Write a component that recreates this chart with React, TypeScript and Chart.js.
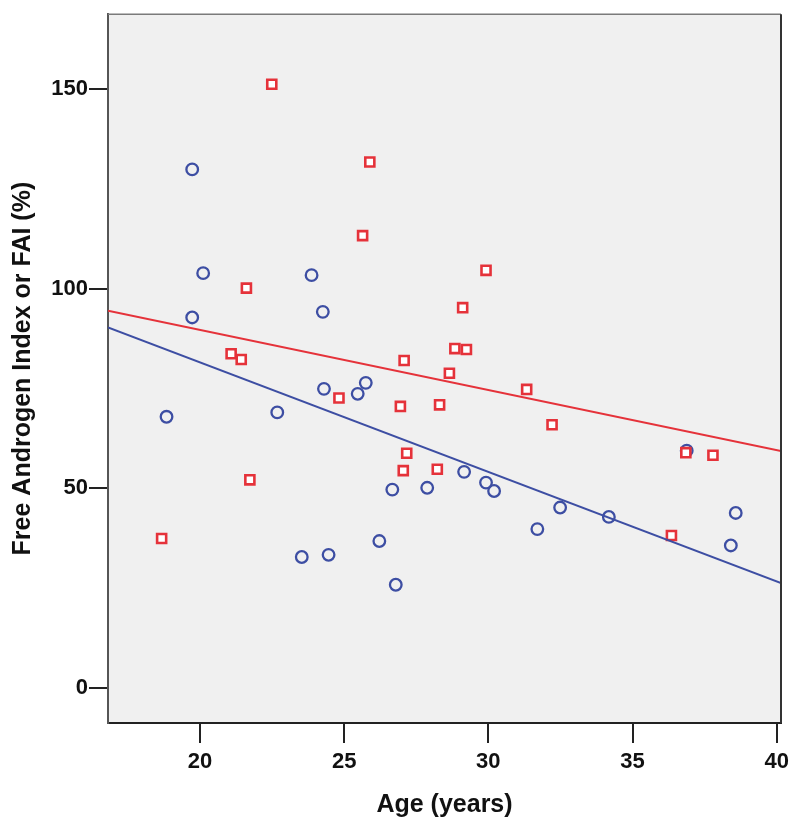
import React, { useEffect, useRef } from "react";
import { Chart, registerables } from "chart.js";

Chart.register(...registerables);

// Red series (squares): age, FAI
const redAge = [22.49, 25.89, 25.64, 21.61, 21.08, 21.43, 24.82, 29.92, 29.11, 28.84, 29.24, 27.08, 28.65, 31.33, 26.95, 28.31, 32.21, 21.73, 18.67, 27.17, 27.05, 28.23, 36.85, 37.79, 36.35];
const redFAI = [151.25, 131.75, 113.3, 100.15, 83.7, 82.25, 72.6, 104.6, 95.25, 85.0, 84.75, 82.0, 78.8, 74.75, 70.5, 70.9, 65.9, 52.1, 37.4, 58.75, 54.4, 54.75, 58.9, 58.25, 38.15];

// Blue series (circles): age, FAI
const blueAge = [19.73, 20.11, 23.87, 19.73, 24.26, 24.3, 25.47, 25.75, 18.84, 22.68, 23.53, 24.46, 26.22, 26.67, 26.79, 27.88, 29.16, 29.92, 30.2, 32.49, 31.7, 36.88, 34.18, 38.58, 38.41];
const blueFAI = [129.9, 103.9, 103.4, 92.8, 94.2, 74.9, 73.65, 76.4, 67.9, 69.0, 32.75, 33.3, 36.75, 49.65, 25.8, 50.1, 54.1, 51.4, 49.3, 45.15, 39.75, 59.4, 42.8, 43.8, 35.65];

// Fit lines (endpoints at the axis range)
const fitAge = [16.81, 40.15];
const redFit = [94.5, 59.3];
const blueFit = [90.3, 26.2];

// Axes
const xTicks = [20, 25, 30, 35, 40];
const yTicks = [0, 50, 100, 150];
const xRange = [16.81, 40.15];
const yRange = [-8.85, 168.8];

const RED = "#e5323a";
const BLUE = "#3d4ea3";
const FONT = "'Liberation Sans', Arial, sans-serif";

const pts = (xs: number[], ys: number[]) => xs.map((x, i) => ({ x, y: ys[i] }));

const bgPlugin = {
  id: "bgPlugin",
  beforeDraw(chart: any) {
    const { ctx, chartArea: a } = chart;
    ctx.save();
    ctx.fillStyle = "#f0f0f0";
    ctx.fillRect(a.left, a.top, a.right - a.left, a.bottom - a.top);
    ctx.restore();
  },
  afterDraw(chart: any) {
    const { ctx, chartArea: a } = chart;
    ctx.save();
    ctx.strokeStyle = "#7a7a7a";
    ctx.lineWidth = 1.5;
    ctx.beginPath();
    ctx.moveTo(a.left, a.top);
    ctx.lineTo(a.right, a.top);
    ctx.stroke();
    ctx.strokeStyle = "#333";
    ctx.lineWidth = 2;
    ctx.beginPath();
    ctx.moveTo(a.right, a.top);
    ctx.lineTo(a.right, a.bottom);
    ctx.stroke();
    ctx.restore();
  },
};

export default function App() {
  const ref = useRef<HTMLCanvasElement>(null);
  useEffect(() => {
    if (!ref.current) return;
    const chart = new Chart(ref.current, {
      type: "scatter",
      data: {
        datasets: [
          {
            type: "line",
            data: pts(fitAge, redFit),
            borderColor: RED,
            borderWidth: 2,
            pointRadius: 0,
            fill: false,
            order: 0,
          } as any,
          {
            type: "line",
            data: pts(fitAge, blueFit),
            borderColor: BLUE,
            borderWidth: 2,
            pointRadius: 0,
            fill: false,
            order: 1,
          } as any,
          {
            data: pts(redAge, redFAI),
            pointStyle: "rect",
            pointRadius: 6.4,
            borderColor: RED,
            backgroundColor: "#ffffff",
            pointBorderWidth: 2.6,
            order: 2,
          },
          {
            data: pts(blueAge, blueFAI),
            pointStyle: "circle",
            pointRadius: 5.8,
            borderColor: BLUE,
            backgroundColor: "rgba(0,0,0,0)",
            pointBorderWidth: 2.3,
            order: 3,
          },
        ],
      },
      options: {
        animation: false,
        responsive: false,
        layout: { padding: { top: 12, right: 19, left: 0, bottom: 0 } },
        plugins: { legend: { display: false }, tooltip: { enabled: false } },
        scales: {
          x: {
            type: "linear",
            min: xRange[0],
            max: xRange[1],
            afterBuildTicks: (s: any) => {
              s.ticks = xTicks.map((v) => ({ value: v }));
            },
            afterFit: (s: any) => {
              s.height = 100;
            },
            grid: {
              drawOnChartArea: false,
              drawTicks: true,
              tickLength: 20,
              color: "#222",
              lineWidth: 2,
            },
            border: { display: true, color: "#222", width: 2 },
            ticks: {
              color: "#111",
              padding: 6,
              font: { family: FONT, size: 22, weight: "bold" },
              callback: (v: any) => String(v),
            },
            title: {
              display: true,
              text: "Age (years)",
              color: "#111",
              font: { family: FONT, size: 25, weight: "bold" },
              padding: { top: 0, bottom: 3 },
            },
          },
          y: {
            type: "linear",
            min: yRange[0],
            max: yRange[1],
            afterBuildTicks: (s: any) => {
              s.ticks = yTicks.map((v) => ({ value: v }));
            },
            afterFit: (s: any) => {
              s.width = 108;
            },
            grid: {
              drawOnChartArea: false,
              drawTicks: true,
              tickLength: 19,
              color: "#222",
              lineWidth: 2,
            },
            border: { display: true, color: "#555", width: 2 },
            ticks: {
              color: "#111",
              padding: 1,
              font: { family: FONT, size: 22, weight: "bold" },
              callback: (v: any) => String(v),
            },
            title: {
              display: true,
              text: "Free Androgen Index or FAI (%)",
              color: "#111",
              font: { family: FONT, size: 25, weight: "bold" },
              padding: { top: 8, bottom: 0 },
            },
          },
        },
      },
      plugins: [bgPlugin],
    });
    return () => chart.destroy();
  }, []);
  return (
    <div style={{ position: "fixed", left: 0, top: 0, width: 800, height: 823, background: "#fff" }}>
      <canvas ref={ref} width={800} height={823} />
    </div>
  );
}
